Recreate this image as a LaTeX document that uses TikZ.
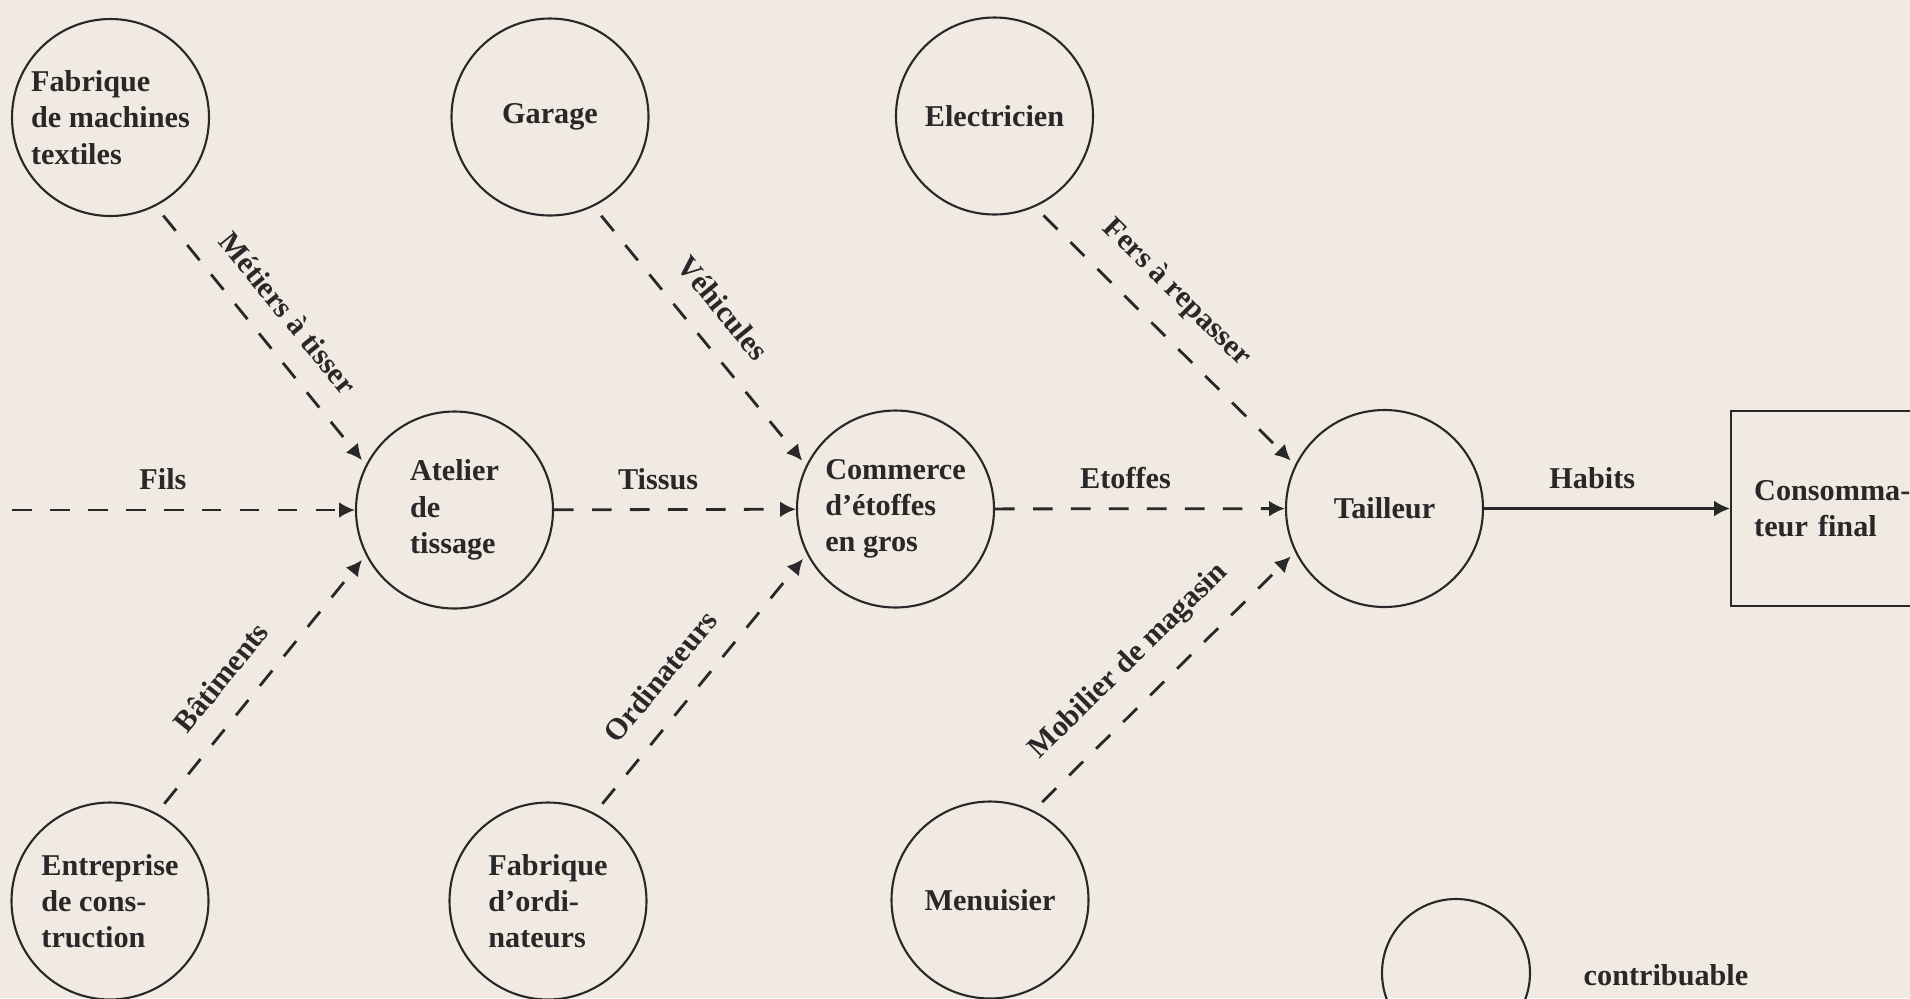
\documentclass[tikz,border=0pt]{standalone}
\usepackage{fontspec}
\setmainfont{Liberation Serif}
\usepackage{tikz}
\usetikzlibrary{positioning, calc}
\usetikzlibrary{arrows.meta}
\definecolor{paper}{RGB}{241,234,226}
\definecolor{ink}{RGB}{40,40,40}
\tikzstyle{agent} = [circle, minimum size=1.97cm, inner sep=1pt, align=left, draw=ink, line width=.6pt, text=ink, font=\bfseries\fontsize{8.6}{10.3}\selectfont]
\tikzstyle{final} = [rectangle, minimum height=1.95cm, text width=2cm, inner sep=.23cm, align=left, draw=ink, line width=.7pt, text=ink, font=\bfseries\fontsize{8.6}{10.3}\selectfont]
\tikzstyle{flow} = [ink, line width=.8pt, dash pattern=on 5.6pt off 5.2pt, -{Latex[length=4.5pt,width=4.5pt]}]
\tikzstyle{goods} = [text=ink, inner sep=1pt, font=\bfseries\fontsize{8.6}{10.3}\selectfont]

\begin{document}
\begin{tikzpicture}
            \useasboundingbox (0,0) rectangle (19.10,-9.98);
            \clip (0,0) rectangle (19.10,-9.98);
            \fill [paper] (0,0) rectangle (19.10,-9.98);

            \node (fab1) [agent] at (1.105,-1.175) {Fabrique\\de machines\\textiles};
            \node (gar1) [agent] at (5.50,-1.17) {Garage};
            \node (ele1) [agent] at (9.945,-1.16) {Electricien};
            \node (atel) [agent] at (4.545,-5.10) {Atelier\\de\\tissage};
            \node (comm) [agent] at (8.955,-5.09) {Commerce\\d'étoffes\\en gros};
            \node (tail) [agent] at (13.845,-5.085) {Tailleur};
            \node (ent1) [agent] at (1.10,-9.01) {Entreprise\\de cons-\\truction};
            \node (ord1) [agent] at (5.48,-9.01) {Fabrique\\d'ordi-\\nateurs};
            \node (men1) [agent] at (9.90,-9.00) {Menuisier};
            \node (cons) [final, anchor=west] at (17.30,-5.085) {Consomma-\\teur final};
            \node (contrib) [agent, minimum size=1.48cm] at (14.56,-9.73) {};
            \node (contribtxt) [goods] at (16.66,-9.75) {contribuable};
            \coordinate (src) at (0.12,-5.10);

            \draw [flow] (src) -- node[goods, above=.15cm, pos=.44] {Fils} (atel);
            \draw [flow] (atel) -- node[goods, above=.15cm, pos=.43] {Tissus} (comm);
            \draw [flow] (comm) -- node[goods, above=.15cm, pos=.45] {Etoffes} (tail);
            \draw [ink, line width=.7pt, -{Latex[length=4.5pt,width=4.5pt]}] (tail) -- node[goods, above=.15cm, pos=.44] {Habits} (cons);

            \draw [flow, shorten <=.12cm, shorten >=.06cm] (fab1.-63) -- node[goods, sloped, above=.2cm, pos=.5] {Métiers à tisser} (atel.153);
            \draw [flow, shorten <=.12cm, shorten >=.06cm] (gar1.-64) -- node[goods, sloped, above=.2cm, pos=.48] {Véhicules} (comm.154);
            \draw [flow, shorten <=.12cm, shorten >=.06cm] (ele1.-66) -- node[goods, sloped, above=.2cm, pos=.44] {Fers à repasser} (tail.154);
            \draw [flow, shorten <=.12cm, shorten >=.06cm] (ent1.62) -- node[goods, sloped, above=.2cm, pos=.44] {Bâtiments} (atel.207);
            \draw [flow, shorten <=.12cm, shorten >=.06cm] (ord1.62) -- node[goods, sloped, above=.2cm, pos=.44] {Ordinateurs} (comm.207);
            \draw [flow, shorten <=.12cm, shorten >=.06cm] (men1.64) -- node[goods, sloped, above=.2cm, pos=.47] {Mobilier de magasin} (tail.206);
        \end{tikzpicture}
\end{document}
